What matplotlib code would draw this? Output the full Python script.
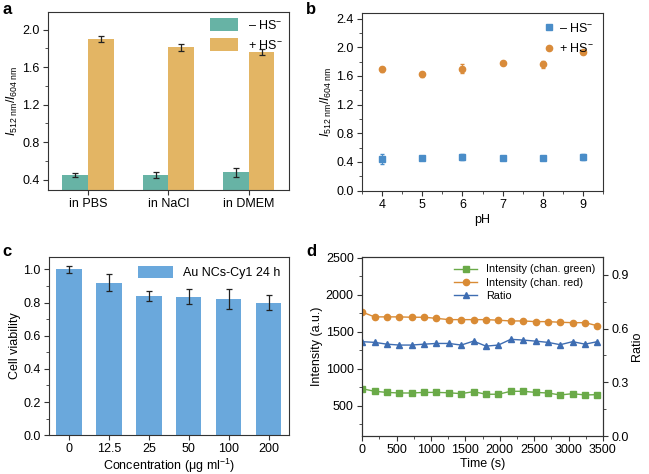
import numpy as np
import matplotlib.pyplot as plt
from matplotlib.ticker import MultipleLocator

plt.rcParams['font.family'] = ['Liberation Sans', 'DejaVu Sans']
plt.rcParams['mathtext.fontset'] = 'custom'
plt.rcParams['mathtext.rm'] = 'Liberation Sans'
plt.rcParams['mathtext.it'] = 'Liberation Sans:italic'
plt.rcParams['font.size'] = 9
plt.rcParams['xtick.major.pad'] = 2.5
plt.rcParams['ytick.major.pad'] = 2.5
plt.rcParams['axes.labelpad'] = 2

# panel a
media = ['in PBS', 'in NaCl', 'in DMEM']
a_minus = [0.45, 0.45, 0.48]
a_minus_err = [0.025, 0.03, 0.05]
a_plus = [1.90, 1.81, 1.76]
a_plus_err = [0.03, 0.04, 0.03]

# panel b
ph = [4, 5, 6, 7, 8, 9]
b_minus = [0.44, 0.45, 0.47, 0.45, 0.45, 0.47]
b_minus_err = [0.07, 0.02, 0.04, 0.03, 0.02, 0.04]
b_plus = [1.69, 1.62, 1.70, 1.78, 1.76, 1.93]
b_plus_err = [0.03, 0.04, 0.06, 0.02, 0.05, 0.02]

# panel c
conc = ['0', '12.5', '25', '50', '100', '200']
viability = [1.00, 0.92, 0.84, 0.835, 0.82, 0.80]
viability_err = [0.02, 0.05, 0.03, 0.045, 0.06, 0.045]

# panel d
time_s = [0, 180, 360, 540, 720, 900, 1080, 1260, 1440, 1620, 1800, 1980,
          2160, 2340, 2520, 2700, 2880, 3060, 3240, 3420]
green = [730, 695, 680, 672, 672, 680, 680, 675, 663, 690, 655, 655,
         695, 695, 680, 672, 645, 663, 645, 650]
red = [1765, 1700, 1700, 1700, 1695, 1695, 1680, 1663, 1663, 1663, 1663, 1655,
       1645, 1645, 1636, 1636, 1627, 1622, 1622, 1580]
ratio = [0.527, 0.523, 0.513, 0.508, 0.508, 0.513, 0.517, 0.517, 0.508, 0.530,
         0.502, 0.508, 0.540, 0.536, 0.530, 0.523, 0.510, 0.527, 0.513, 0.527]

ylab_ratio = r'$\mathit{I}_{\rm 512\ nm}/\mathit{I}_{\rm 604\ nm}$'
spine_c = '#333333'


def style(ax):
    for s in ax.spines.values():
        s.set_color(spine_c)
        s.set_linewidth(0.8)
    ax.tick_params(which='major', length=3.5, width=0.8, color=spine_c)
    ax.tick_params(which='minor', length=2, width=0.6, color=spine_c)


fig = plt.figure(figsize=(6.49, 4.74), dpi=100)

# a
ax = fig.add_axes([0.074, 0.599, 0.371, 0.376])
x = np.arange(len(media))
w = 0.32
ax.bar(x - w / 2, a_minus, w, color='#67b3a5', label='– HS$^{-}$')
ax.bar(x + w / 2, a_plus, w, color='#e3b564', label='+ HS$^{-}$')
ax.errorbar(x - w / 2, a_minus, yerr=a_minus_err, fmt='none', ecolor='#222222',
            elinewidth=0.9, capsize=2, capthick=0.9)
ax.errorbar(x + w / 2, a_plus, yerr=a_plus_err, fmt='none', ecolor='#222222',
            elinewidth=0.9, capsize=2, capthick=0.9)
ax.set_xlim(-0.5, 2.5)
ax.set_ylim(0.29, 2.19)
ax.set_xticks(x)
ax.set_xticklabels(media)
ax.yaxis.set_minor_locator(MultipleLocator(0.2))
ax.set_yticks([0.4, 0.8, 1.2, 1.6, 2.0])
ax.set_ylabel(ylab_ratio)
ax.legend(loc='upper right', frameon=False, handlelength=2.2, handleheight=1.2,
          borderaxespad=0.1, fontsize=9)
style(ax)

# b
ax = fig.add_axes([0.558, 0.598, 0.371, 0.375])
eb1 = ax.errorbar(ph, b_minus, yerr=b_minus_err, fmt='s', color='#4a8dc8', ms=4,
                  elinewidth=0.8, capsize=1.5)
eb2 = ax.errorbar(ph, b_plus, yerr=b_plus_err, fmt='o', color='#d98b3a', ms=4.5,
                  elinewidth=0.8, capsize=1.5)
ax.set_xlim(3.5, 9.5)
ax.set_ylim(0, 2.48)
ax.xaxis.set_major_locator(MultipleLocator(1))
ax.xaxis.set_minor_locator(MultipleLocator(0.5))
ax.yaxis.set_major_locator(MultipleLocator(0.4))
ax.yaxis.set_minor_locator(MultipleLocator(0.2))
ax.set_xlabel('pH')
ax.set_ylabel(ylab_ratio)
ax.legend(handles=[eb1.lines[0], eb2.lines[0]],
          labels=['– HS$^{-}$', '+ HS$^{-}$'], loc='upper right',
          frameon=False, handlelength=0.8, handletextpad=0.4,
          borderaxespad=0.3, fontsize=9, labelspacing=0.6)
style(ax)

# c
ax = fig.add_axes([0.0755, 0.082, 0.3695, 0.376])
xc = np.arange(len(conc))
ax.bar(xc, viability, 0.63, color='#6aa8dc', label='Au NCs-Cy1 24 h')
ax.errorbar(xc, viability, yerr=viability_err, fmt='none', ecolor='#222222',
            elinewidth=0.9, capsize=2, capthick=0.9)
ax.set_xlim(-0.5, 5.5)
ax.set_ylim(0, 1.076)
ax.set_xticks(xc)
ax.set_xticklabels(conc)
ax.yaxis.set_major_locator(MultipleLocator(0.2))
ax.yaxis.set_minor_locator(MultipleLocator(0.1))
ax.set_xlabel(r'Concentration (μg ml$^{-1}$)', labelpad=1)
ax.set_ylabel('Cell viability')
ax.legend(loc='upper right', frameon=False, handlelength=2.8, handleheight=1.1,
          borderaxespad=0.3, fontsize=9)
style(ax)

# d
ax = fig.add_axes([0.558, 0.080, 0.371, 0.378])
l1, = ax.plot(time_s, green, '-s', color='#6aaa48', ms=4, lw=1,
              label='Intensity (chan. green)')
l2, = ax.plot(time_s, red, '-o', color='#d98b35', ms=4.5, lw=1,
              label='Intensity (chan. red)')
ax.set_xlim(0, 3500)
ax.set_ylim(90, 2510)
ax.xaxis.set_major_locator(MultipleLocator(500))
ax.xaxis.set_minor_locator(MultipleLocator(250))
ax.yaxis.set_major_locator(MultipleLocator(500))
ax.yaxis.set_minor_locator(MultipleLocator(250))
ax.set_xlabel('Time (s)', labelpad=1)
ax.set_ylabel('Intensity (a.u.)')
style(ax)
ax2 = ax.twinx()
l3, = ax2.plot(time_s, ratio, '-^', color='#3e6db2', ms=4.5, lw=1, label='Ratio')
ax2.set_ylim(0, 1.0)
ax2.yaxis.set_major_locator(MultipleLocator(0.3))
ax2.yaxis.set_minor_locator(MultipleLocator(0.15))
ax2.set_ylabel('Ratio')
style(ax2)
ax.legend(handles=[l1, l2, l3], loc='upper right', frameon=False, fontsize=7.8,
          handlelength=2.2, labelspacing=0.3, borderaxespad=0.3)

for lab, xx, yy in [('a', 0.004, 0.995), ('b', 0.472, 0.995),
                    ('c', 0.004, 0.485), ('d', 0.472, 0.485)]:
    fig.text(xx, yy, lab, fontsize=12, fontweight='bold', va='top', ha='left')

fig.savefig('out.png', dpi=100)
